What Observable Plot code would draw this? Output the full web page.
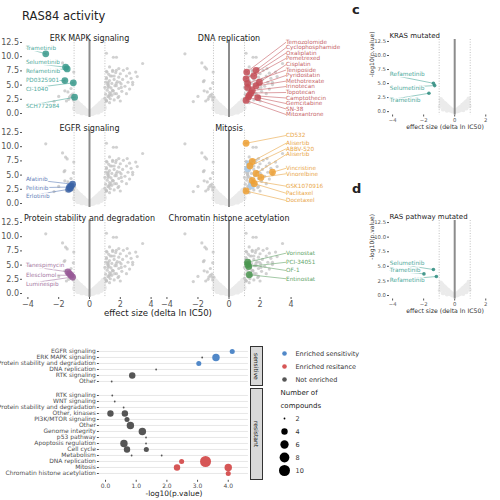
<!DOCTYPE html>
<html><head><meta charset="utf-8">
<script src="https://cdn.jsdelivr.net/npm/d3@7"></script>
<script src="https://cdn.jsdelivr.net/npm/@observablehq/plot@0.6"></script>
<style>
body{margin:0;background:#fff;font-family:"DejaVu Sans",sans-serif;}
#root{position:relative;width:500px;height:500px;overflow:hidden;background:#fff;}
.t{position:absolute;white-space:nowrap;line-height:1;color:#222;}
.strip{position:absolute;box-sizing:border-box;background:#d9d9d9;border:0.6px solid #333;writing-mode:vertical-rl;font-size:6px;display:flex;align-items:center;justify-content:center;color:#1a1a1a;}
</style></head><body><div id="root"></div>
<script>
// ---------------- data ----------------
const otherPoints = [[-1.75,8.9],[-1.02,7.3],[-1.65,5.6],[-1.2,4.4],[-1.6,4.0],[-2.0,3.0],[-1.05,2.4],[-1.5,2.2],[-2.3,2.1],
 [1.55,9.9],[1.75,9.9],[3.45,8.8],[1.3,8.2],[1.9,7.9],[2.2,7.6],[1.1,7.4],[1.5,7.6],[2.6,7.1],[1.7,7.2],[2.0,7.0],[1.25,6.9],[3.0,7.3],
 [2.4,6.6],[1.45,6.6],[1.9,6.4],[1.1,6.3],[2.7,6.2],[1.6,6.0],[2.15,6.0],[1.3,5.8],[1.8,5.6],[2.5,5.5],[1.05,5.5],[1.45,5.3],[2.05,5.2],
 [2.8,5.1],[1.2,5.0],[1.65,4.9],[2.3,4.8],[1.0,4.6],[1.4,4.5],[1.9,4.4],[2.6,4.3],[1.15,4.1],[1.55,4.0],[2.1,3.9],[1.3,3.7],[1.75,3.5],
 [1.05,3.4],[2.4,3.5],[1.45,3.2],[1.2,3.0],[1.9,3.0],[1.0,2.7],[1.35,2.6],[1.6,2.4],[1.1,2.2],[1.3,1.9],[2.0,2.2],[3.1,6.5],[2.45,7.9]];
const faintPoints = [[-0.9,2.2],[-0.8,1.9],[-0.7,1.6],[-0.6,1.4],[-0.5,1.1],[-0.4,0.9],[-0.3,0.6],[-0.2,0.4],[-0.1,0.2],[0.0,0.05],
 [0.1,0.2],[0.2,0.45],[0.3,0.7],[0.4,0.9],[0.5,1.2],[0.6,1.4],[0.7,1.7],[0.8,1.9],[0.9,2.3],[-0.85,1.2],[-0.65,0.8],[-0.45,0.5],
 [-0.25,0.2],[0.25,0.15],[0.45,0.5],[0.65,0.9],[0.85,1.4],[-0.75,0.4],[-0.5,0.2],[0.55,0.3],[0.75,0.6],[0.95,1.0],[-0.95,0.9],
 [-0.15,0.05],[0.15,0.05],[0.35,0.3],[-0.35,0.3],[-0.9,1.6],[0.9,1.7],[-0.7,1.0],[0.7,1.1]];

const erkNames = ["Trametinib","Selumetinib","Refametinib","PD0325901","CI-1040","SCH772984"];
const erkPoints = [[-2.84,10.5],[-1.55,8.15],[-1.45,7.85],[-1.6,5.8],[-1.05,5.4],[-0.97,2.87]];
const erkLabelY = [11.5,9.0,7.45,5.8,4.35,1.3];

const dnaNames = ["Temozolomide","Cyclophosphamide","Oxaliplatin","Pemetrexed","Cisplatin","Teniposide","Pyridostatin","Methotrexate","Irinotecan","Topotecan","Camptothecin","Gemcitabine","SN-38","Mitoxantrone"];
const dnaPoints = [[1.14,7.3],[1.74,7.6],[1.1,6.1],[1.6,6.6],[1.96,5.5],[1.2,5.3],[1.74,4.9],[1.2,4.6],[1.5,4.05],[1.4,3.6],[1.3,3.2],[1.85,2.8],[1.25,2.9],[1.1,2.3]];
const dnaLabelY = [12.55,11.6,10.65,9.7,8.6,7.65,6.7,5.7,4.75,3.7,2.73,1.76,0.8,-0.18];

const egfrNames = ["Afatinib","Pelitinib","Erlotinib"];
const egfrPoints = [[-1.1,3.4],[-1.3,2.9],[-1.35,2.5]];
const egfrLabelY = [4.35,2.75,1.25];
const egfrExtra = [[-1.2,3.1],[-1.25,2.7]];

const mitNames = ["CD532","Alisertib","ABBV-520","Alisertib","Vincristine","Vinorelbine","GSK1070916","Paclitaxel","Docetaxel"];
const mitPoints = [[1.1,10.6],[1.5,7.4],[1.35,6.6],[1.74,5.3],[2.8,5.5],[2.06,4.6],[1.5,4.05],[1.63,3.5],[1.1,2.2]];
const mitLabelY = [11.97,10.6,9.63,8.63,6.2,5.23,3.05,1.81,0.53];
const mitExtra = [[1.3,7.0],[1.2,6.1],[1.45,3.1]];

const protNames = ["Tanespimycin","Elesclomol","Luminespib"];
const protPoints = [[-1.4,3.8],[-1.2,3.2],[-1.1,2.9]];
const protLabelY = [4.9,3.3,1.7];
const protExtra = [[-1.3,3.5]];

const chromNames = ["Vorinostat","PCI-34051","OF-1","Entinostat"];
const chromPoints = [[1.2,5.5],[1.27,4.75],[1.2,5.1],[1.31,3.3]];
const chromLabelY = [7.1,5.5,4.05,2.6];

const krasNames = ["Refametinib","Selumetinib","Trametinib"];
const krasPoints = [[-1.37,5.05],[-1.29,4.64],[-1.66,3.27]];
const krasLabelY = [6.6,4.2,2.1];

const rasNames = ["Selumetinib","Trametinib","Refametinib"];
const rasPoints = [[-1.37,4.45],[-1.98,3.7],[-1.18,3.25]];
const rasLabelY = [5.6,4.28,2.57];

const yTicks = [0,2.5,5,7.5,10,12.5];
const xTicks = [-4,-2,0,2,4];

// enrichment dot plot
const sensCats = ["EGFR signaling","ERK MAPK signaling","Protein stability and degradation","DNA replication","RTK signaling","Other"];
const sensCat = ["EGFR signaling","ERK MAPK signaling","ERK MAPK signaling","Protein stability and degradation","DNA replication","RTK signaling","Other"];
const sensP = [4.13,3.6,3.15,3.04,1.65,0.87,0.2];
const sensN = [3,5,2,3,2,4,2];
const sensStatus = ["Enriched sensitivity","Enriched sensitivity","Not enriched","Enriched sensitivity","Not enriched","Not enriched","Not enriched"];

const resCats = ["RTK signaling","WNT signaling","Protein stability and degradation","Other, kinases","PI3K/MTOR signaling","Other","Genome integrity","p53 pathway","Apoptosis regulation","Cell cycle","Metabolism","DNA replication","Mitosis","Chromatin histone acetylation"];
const resCat = ["RTK signaling","WNT signaling","Protein stability and degradation","Other, kinases","Other, kinases","PI3K/MTOR signaling","Other","Genome integrity","p53 pathway","Apoptosis regulation","Apoptosis regulation","Cell cycle","Cell cycle","Metabolism","Metabolism","DNA replication","DNA replication","Mitosis","Mitosis","Chromatin histone acetylation"];
const resP = [0.22,0.3,0.59,0.16,0.63,0.7,0.81,1.2,1.32,0.6,1.32,0.7,1.33,0.85,1.83,2.48,3.26,2.33,4.0,4.0];
const resN = [2,2,2,4,4,3,5,5,2,5,2,4,3,2,2,3,10,4,5,3];
const resStatus = resP.map((_, i) => i < 15 ? "Not enriched" : "Enriched resitance");

const statusKeys = ["Enriched sensitivity","Enriched resitance","Not enriched"];
const sizeKeys = [2,4,6,8,10];
const xTicksEnr = [0,1,2,3,4];

// ---------------- helpers ----------------
const root = document.getElementById("root");
function place(node, left, top) {
  const d = document.createElement("div");
  d.style.position = "absolute"; d.style.left = left + "px"; d.style.top = top + "px";
  d.appendChild(node); root.appendChild(d); return d;
}
function addText(txt, left, top, css) {
  const d = document.createElement("div");
  d.className = "t"; d.textContent = txt;
  d.style.left = left + "px"; d.style.top = top + "px";
  Object.assign(d.style, css || {});
  root.appendChild(d); return d;
}
const st = (fs, color) => ({background: "transparent", overflow: "visible", fontFamily: "'DejaVu Sans', sans-serif", fontSize: fs + "px", color: color || "#555"});
const px = d => d[0], py = d => d[1];

function volcano(s) {
  const height = s.mT + s.frameH + s.mB;
  const labels = s.names.map((n, i) => ({name: n, lx: s.labX, ly: s.labY[i], px: s.pts[i][0], py: s.pts[i][1]}));
  const marks = [
    Plot.dot(faintPoints, {x: px, y: py, r: s.faintR || 2.8, fill: "#ebebeb"}),
    Plot.ruleX([-1, 1], {stroke: "#b0b0b0", strokeWidth: 0.8, strokeDasharray: "1,1.6"}),
    Plot.ruleX([0], {stroke: "#8c8c8c", strokeWidth: s.zeroW || 2})
  ];
  if (s.bg) marks.push(Plot.dot(s.bg, {x: px, y: py, r: 1.6, fill: "#c2c2c2", fillOpacity: 0.75}));
  marks.push(Plot.link(labels, {x1: "lx", y1: "ly", x2: "px", y2: "py", stroke: s.lcolor, strokeWidth: 0.6}));
  const textOpts = {x: "lx", y: "ly", text: "name", textAnchor: "start", fill: s.lcolor, fontSize: s.labFs};
  if (s.side === "left") Object.assign(textOpts, {stroke: "white", strokeWidth: 2.4, paintOrder: "stroke"});
  marks.push(Plot.text(labels, textOpts));
  if (s.extra) marks.push(Plot.dot(s.extra, {x: px, y: py, r: s.ptR, fill: s.extraColor || s.color, fillOpacity: 0.85}));
  marks.push(Plot.dot(s.pts, {x: px, y: py, r: s.ptR, fill: s.color, fillOpacity: 0.85}));
  marks.push(Plot.text([s.title], {frameAnchor: s.titleLeft ? "top-left" : "top", textAnchor: s.titleLeft ? "start" : "middle", dy: s.titleDy || -4.5, fontSize: s.titleFs, fill: "#222"}));
  if (s.yLabel) marks.push(Plot.text([s.yLabel], {frameAnchor: "left", dx: -17, rotate: -90, fontSize: 6, fill: "#333"}));
  if (s.xLabel) marks.push(Plot.text([s.xLabel], {frameAnchor: "bottom", dy: 14, fontSize: 6.2, fill: "#333"}));
  const p = Plot.plot({
    width: s.width, height, marginLeft: s.mL, marginRight: s.mR, marginTop: s.mT, marginBottom: s.mB,
    style: st(s.fs),
    x: {domain: s.xDomain, ticks: s.xTicks || xTicks, tickSize: 2, tickPadding: 1.5, label: null, axis: s.xAxis ? "bottom" : null},
    y: {domain: s.yDomain, ticks: yTicks, tickFormat: ".1f", tickSize: 2, tickPadding: 1.5, label: null, axis: s.yAxis ? "left" : null},
    marks
  });
  place(p, s.left, s.top);
}

// ---------------- volcano grid ----------------
const bgAll = otherPoints.concat(erkPoints, dnaPoints, egfrPoints, mitPoints, protPoints, chromPoints);
const colSpec = [
  {left: 0, width: 170, mL: 22, mR: 14, labX: -4.13, side: "left", yAxis: true},
  {left: 140, width: 210, mL: 21, mR: 54, labX: 3.68, side: "right", yAxis: false}
];
const rowTops = [20, 110, 200];
const panels = [
  {row: 0, col: 0, title: "ERK MAPK signaling", names: erkNames, pts: erkPoints, labY: erkLabelY, color: "#3a9a8c", lcolor: "#4faa9c"},
  {row: 0, col: 1, title: "DNA replication", names: dnaNames, pts: dnaPoints, labY: dnaLabelY, color: "#c44d57", lcolor: "#c65f67"},
  {row: 1, col: 0, title: "EGFR signaling", names: egfrNames, pts: egfrPoints, labY: egfrLabelY, extra: egfrExtra, color: "#3b63a6", lcolor: "#5f80b8"},
  {row: 1, col: 1, title: "Mitosis", names: mitNames, pts: mitPoints, labY: mitLabelY, extra: mitExtra, extraColor: "#a9c9e6", color: "#eea032", lcolor: "#e9a647"},
  {row: 2, col: 0, title: "Protein stability and degradation", names: protNames, pts: protPoints, labY: protLabelY, extra: protExtra, color: "#985896", lcolor: "#a477a2"},
  {row: 2, col: 1, title: "Chromatin histone acetylation", names: chromNames, pts: chromPoints, labY: chromLabelY, color: "#4a9650", lcolor: "#64a569"}
];
for (const p of panels) {
  const c = colSpec[p.col];
  volcano(Object.assign({}, c, p, {
    top: rowTops[p.row], mT: 19.7, frameH: 77.3, mB: p.row === 2 ? 14 : 3,
    xDomain: [-4.35, 4.35], yDomain: [-0.7, 12.9], xAxis: p.row === 2,
    bg: bgAll, fs: 8, labFs: 5.7, titleFs: 8, ptR: 3.4
  }));
}

// panels c and d
volcano({left: 350, top: 25, width: 150, mL: 39, mR: 0, mT: 14, frameH: 75.5, mB: 25.5,
  xDomain: [-4.2, 2.95], yDomain: [-0.6, 12.85], xTicks: [-4,-2,0,2], xAxis: true, yAxis: true,
  title: "KRAS mutated", titleLeft: true, titleDy: -6, titleFs: 7, names: krasNames, pts: krasPoints, labY: krasLabelY,
  labX: -4.18, side: "left", color: "#2a8a7c", lcolor: "#4faa9c", fs: 5.3, labFs: 5.8, ptR: 1.8, zeroW: 2, faintR: 2.2,
  yLabel: "-log10(p.value)", xLabel: "effect size (delta ln IC50)"});
volcano({left: 350, top: 200, width: 150, mL: 39, mR: 0, mT: 20, frameH: 78.5, mB: 16.5,
  xDomain: [-4.2, 2.95], yDomain: [-0.6, 12.85], xTicks: [-4,-2,0,2], xAxis: true, yAxis: true,
  title: "RAS pathway mutated", titleLeft: true, titleDy: -6, titleFs: 7, names: rasNames, pts: rasPoints, labY: rasLabelY,
  labX: -4.18, side: "left", color: "#2a8a7c", lcolor: "#4faa9c", fs: 5.3, labFs: 5.8, ptR: 1.8, zeroW: 2, faintR: 2.2,
  yLabel: "-log10(p.value)", xLabel: "effect size (delta ln IC50)"});

// titles
addText("RAS84 activity", 22, 11, {fontSize: "11.5px"});
addText("effect size (delta ln IC50)", 58, 308.5, {fontSize: "8.6px", width: "200px", textAlign: "center"});
addText("c", 352, 3, {fontSize: "13px", fontWeight: "bold"});
addText("d", 352, 182, {fontSize: "13px", fontWeight: "bold"});

// ---------------- enrichment dot plot ----------------
const colorOpts = {type: "ordinal", domain: statusKeys, range: ["#5188c8", "#d65656", "#555555"]};
const rOpts = {type: "linear", domain: [2, 10], range: [0, 1], interpolate: t => 0.9 + 4.6 * Math.sqrt(Math.max(0, t))};
const sensData = sensCat.map((c, i) => ({cat: c, p: sensP[i], n: sensN[i], s: sensStatus[i]}));
const resData = resCat.map((c, i) => ({cat: c, p: resP[i], n: resN[i], s: resStatus[i]}));

const sensPlot = Plot.plot({
  width: 250, height: 53.8, marginLeft: 98.9, marginRight: 2, marginTop: 10.2, marginBottom: 4,
  style: st(6, "#4d4d4d"),
  x: {domain: [-0.2, 4.66], axis: null},
  y: {type: "point", domain: sensCats, padding: 0.6, tickSize: 2, tickPadding: 1.5, label: null},
  color: colorOpts, r: rOpts,
  marks: [
    Plot.ruleY(sensCats, {stroke: "#e2e2e2", strokeWidth: 0.8}),
    Plot.dot(sensData, {x: "p", y: "cat", r: "n", fill: "s"})
  ]
});
place(sensPlot, 0, 336);

const resPlot = Plot.plot({
  width: 250, height: 121.8, marginLeft: 98.9, marginRight: 2, marginTop: 10.1, marginBottom: 20,
  style: st(6, "#4d4d4d"),
  x: {domain: [-0.2, 4.66], ticks: xTicksEnr, tickSize: 2, tickPadding: 1, label: null},
  y: {type: "point", domain: resCats, padding: 0.6, tickSize: 2, tickPadding: 1.5, label: null},
  color: colorOpts, r: rOpts,
  marks: [
    Plot.ruleY(resCats, {stroke: "#e2e2e2", strokeWidth: 0.8}),
    Plot.dot(resData, {x: "p", y: "cat", r: "n", fill: "s"}),
    Plot.text(["-log10(p.value)"], {frameAnchor: "bottom", dy: 16, fontSize: 7.5, fill: "#222"})
  ]
});
place(resPlot, 0, 378);

// facet strips
function strip(txt, top, h) {
  const d = document.createElement("div");
  d.className = "strip"; d.textContent = txt;
  d.style.left = "250px"; d.style.top = top + "px"; d.style.width = "13px"; d.style.height = h + "px";
  root.appendChild(d);
}
strip("sensitive", 346.2, 39.6);
strip("resistant", 388.1, 91.7);

// legend
const legendRows = statusKeys.concat(["Number of", "compounds"], sizeKeys.map(String));
const legend = Plot.plot({
  width: 130, height: 145, marginLeft: 4, marginRight: 106, marginTop: 12, marginBottom: 14,
  style: st(6.5, "#333"),
  x: {axis: null},
  y: {type: "point", domain: legendRows, padding: 0, axis: null},
  color: colorOpts, r: rOpts,
  marks: [
    Plot.dot(statusKeys, {y: d => d, fill: d => d, r: 2.3}),
    Plot.text(statusKeys, {y: d => d, text: d => d, dx: 11, textAnchor: "start", fill: "#333", fontSize: 6.5}),
    Plot.text(["Number of", "compounds"], {y: d => d, text: d => d, dx: -4, textAnchor: "start", fill: "#222", fontSize: 7}),
    Plot.dot(sizeKeys, {y: d => String(d), r: d => d, fill: "black"}),
    Plot.text(sizeKeys, {y: d => String(d), text: d => String(d), dx: 11, textAnchor: "start", fill: "#333", fontSize: 6.5})
  ]
});
place(legend, 270, 340);
</script></body></html>
